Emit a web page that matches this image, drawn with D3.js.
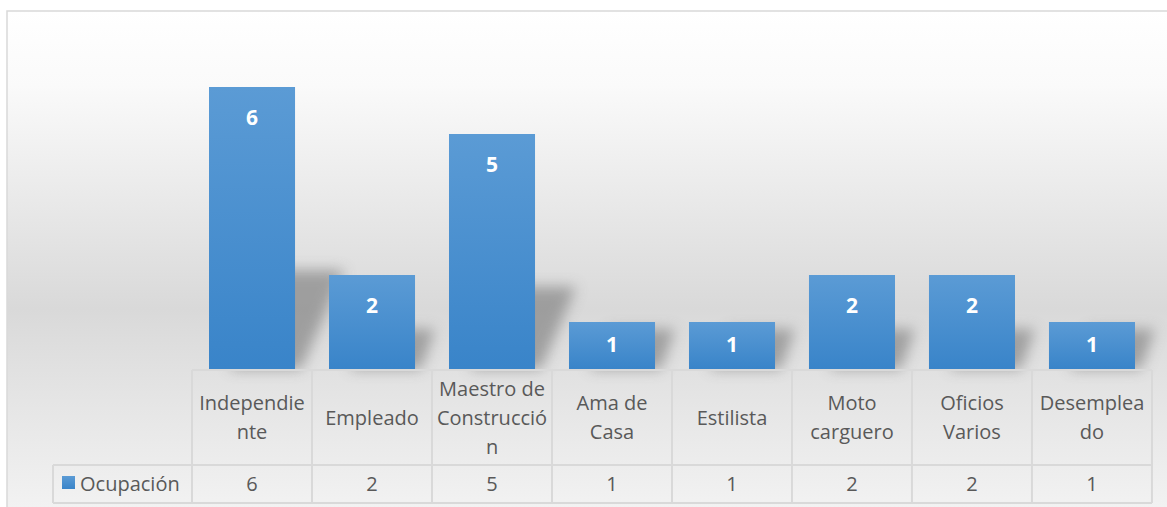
<!DOCTYPE html>
<html>
<head>
<meta charset="utf-8">
<script src="https://cdn.jsdelivr.net/npm/d3@7/dist/d3.min.js"></script>
<style>
  html, body { margin: 0; padding: 0; background: #fff; }
  svg { display: block; }
</style>
</head>
<body>
<svg id="chart" width="1167" height="507"></svg>
<script>
// chart data
var categories = ['Independiente', 'Empleado', 'Maestro de Construcción', 'Ama de Casa',
    'Estilista', 'Moto carguero', 'Oficios Varios', 'Desempleado'];
var headerLines = [['Independie', 'nte'], ['Empleado'], ['Maestro de', 'Construcció', 'n'],
    ['Ama de', 'Casa'], ['Estilista'], ['Moto', 'carguero'], ['Oficios', 'Varios'], ['Desemplea', 'do']];
var values = [6, 2, 5, 1, 1, 2, 2, 1];
var seriesName = 'Ocupación';

var W = 1167, H = 507;
var svg = d3.select('#chart');
var font = '"Open Sans", "DejaVu Sans", sans-serif';

var left = 192, right = 1152, base = 369;
var headTop = 370, rowTop = 465, rowBottom = 503, legendLeft = 53;

var x = d3.scaleBand()
    .domain(categories)
    .range([left, right])
    .paddingInner(0.283)
    .paddingOuter(0.1417);

var y = d3.scaleLinear()
    .domain([0, 6])
    .range([base, 87]);

var defs = svg.append('defs');

var bg = defs.append('linearGradient')
    .attr('id', 'bg').attr('x1', 0).attr('y1', 0).attr('x2', 0).attr('y2', 1);
bg.append('stop').attr('offset', '0%').attr('stop-color', '#ffffff');
bg.append('stop').attr('offset', '15%').attr('stop-color', '#fafafa');
bg.append('stop').attr('offset', '60%').attr('stop-color', '#d9d9d9');
bg.append('stop').attr('offset', '80%').attr('stop-color', '#e6e6e6');
bg.append('stop').attr('offset', '100%').attr('stop-color', '#f2f2f2');

var barGrad = defs.append('linearGradient')
    .attr('id', 'barGrad').attr('x1', 0).attr('y1', 0).attr('x2', 0).attr('y2', 1);
barGrad.append('stop').attr('offset', '0%').attr('stop-color', '#5b9bd5');
barGrad.append('stop').attr('offset', '100%').attr('stop-color', '#3984c9');

var blur = defs.append('filter').attr('id', 'blur')
    .attr('x', '-50%').attr('y', '-50%').attr('width', '200%').attr('height', '200%');
blur.append('feGaussianBlur').attr('stdDeviation', 7);

// chart area
svg.append('rect')
    .attr('x', 7).attr('y', 11)
    .attr('width', W - 6).attr('height', H - 10)
    .attr('fill', 'url(#bg)')
    .attr('stroke', '#d9d9d9').attr('stroke-width', 1.5);

// soft perspective shadows behind the bars
svg.append('g')
    .selectAll('path')
    .data(values)
    .join('path')
    .attr('d', function(d, i) {
        var x0 = x(categories[i]) + 20, x1 = x(categories[i]) + x.bandwidth();
        var h = Math.max(40, (base - y(d)) * 0.35);
        var dx = h * 0.5;
        return 'M' + x0 + ',' + base + 'L' + (x1 + 6) + ',' + base +
            'L' + (x1 + dx) + ',' + (base - h) + 'L' + (x0 + dx) + ',' + (base - h) + 'Z';
    })
    .attr('fill', '#8a8a8a')
    .attr('opacity', 0.75)
    .attr('filter', 'url(#blur)');

// bars
svg.append('g')
    .selectAll('rect')
    .data(values)
    .join('rect')
    .attr('x', function(d, i) { return x(categories[i]); })
    .attr('y', function(d) { return y(d); })
    .attr('width', x.bandwidth())
    .attr('height', function(d) { return base - y(d); })
    .attr('fill', 'url(#barGrad)');

// value labels
svg.append('g')
    .selectAll('text')
    .data(values)
    .join('text')
    .attr('x', function(d, i) { return x(categories[i]) + x.bandwidth() / 2; })
    .attr('y', function(d) { return Math.min(y(d) + 38, (y(d) + base) / 2 + 6); })
    .attr('text-anchor', 'middle')
    .attr('font-family', font)
    .attr('font-weight', 'bold')
    .attr('font-size', 21)
    .attr('fill', '#ffffff')
    .text(function(d) { return d; });

// data table
var step = x.step();
var tbl = svg.append('g')
    .attr('stroke', '#d9d9d9').attr('stroke-width', 2).attr('fill', 'none');

tbl.append('line').attr('x1', left).attr('x2', right).attr('y1', headTop).attr('y2', headTop);
tbl.append('line').attr('x1', legendLeft).attr('x2', right).attr('y1', rowTop).attr('y2', rowTop);
tbl.append('line').attr('x1', legendLeft).attr('x2', right).attr('y1', rowBottom).attr('y2', rowBottom);
tbl.append('line').attr('x1', legendLeft).attr('x2', legendLeft).attr('y1', rowTop).attr('y2', rowBottom);
tbl.selectAll('line.v')
    .data(d3.range(categories.length + 1))
    .join('line')
    .attr('class', 'v')
    .attr('x1', function(i) { return left + i * step; })
    .attr('x2', function(i) { return left + i * step; })
    .attr('y1', headTop).attr('y2', rowBottom);

// header labels
var head = svg.append('g')
    .selectAll('text')
    .data(headerLines)
    .join('text')
    .attr('text-anchor', 'middle')
    .attr('font-family', font)
    .attr('font-size', 20)
    .attr('fill', '#595959');

head.each(function(lines, i) {
    var cx = x(categories[i]) + x.bandwidth() / 2;
    var lh = 29;
    var mid = (headTop + rowTop) / 2 + 7;
    var start = mid - (lines.length - 1) * lh / 2;
    d3.select(this).selectAll('tspan')
        .data(lines)
        .join('tspan')
        .attr('x', cx)
        .attr('y', function(l, k) { return start + k * lh; })
        .text(function(l) { return l; });
});

// value row
svg.append('g')
    .selectAll('text')
    .data(values)
    .join('text')
    .attr('x', function(d, i) { return x(categories[i]) + x.bandwidth() / 2; })
    .attr('y', (rowTop + rowBottom) / 2 + 7)
    .attr('text-anchor', 'middle')
    .attr('font-family', font)
    .attr('font-size', 20)
    .attr('fill', '#595959')
    .text(function(d) { return d; });

// legend key
svg.append('rect')
    .attr('x', 62).attr('y', 476)
    .attr('width', 13).attr('height', 13)
    .attr('fill', 'url(#barGrad)');
svg.append('text')
    .attr('x', 80)
    .attr('y', (rowTop + rowBottom) / 2 + 7)
    .attr('font-family', font)
    .attr('font-size', 20)
    .attr('fill', '#595959')
    .text(seriesName);
</script>
</body>
</html>
